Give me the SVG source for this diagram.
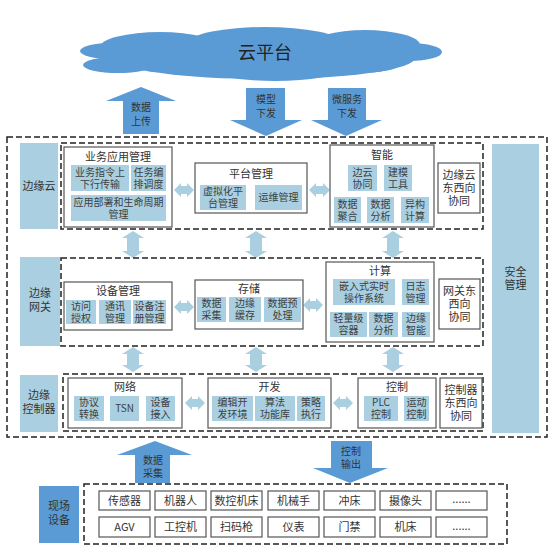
<svg xmlns="http://www.w3.org/2000/svg" width="553" height="558" viewBox="0 0 553 558">
<style>
text{font-family:"Noto Sans CJK SC","Noto Sans",sans-serif;fill:#333;text-anchor:middle}
.s{font-size:10px;fill:#404040}
.m{font-size:11px}
.lb{fill:#a9cfe1}
.wb{fill:#fff;stroke:#555;stroke-width:1.2}
.dash{fill:none;stroke:#222;stroke-width:1.5;stroke-dasharray:6 3}
.blue{fill:#5b9bd5}
.da{fill:#a9cfe1}
.k{fill:#333}
</style>
<rect width="553" height="558" fill="#fff"/>
<g id="cloud" class="blue">
<ellipse cx="265" cy="58" rx="150" ry="21"/>
<ellipse cx="160" cy="47" rx="60" ry="15"/>
<ellipse cx="265" cy="42" rx="75" ry="15"/>
<ellipse cx="365" cy="45" rx="55" ry="15"/>
<ellipse cx="410" cy="52" rx="32" ry="9"/>
<ellipse cx="112" cy="51" rx="32" ry="8"/>
<ellipse cx="118" cy="65" rx="35" ry="8"/>
<ellipse cx="275" cy="69" rx="65" ry="12"/>
<ellipse cx="360" cy="64" rx="40" ry="9"/>
<text x="265" y="59" style="font-size:18px;fill:#222">云平台</text>
</g>
<g id="connectors">
<polygon class="blue" points="141,87 176,101 159,101 159,134 123,134 123,101 106,101"/>
<text class="s k" x="141" y="111"><tspan x="141">数据</tspan><tspan x="141" dy="14">上传</tspan></text>
<polygon class="blue" points="246,88 285,88 285,120 302,120 266,136 230,120 246,120"/>
<text class="s k" x="266" y="103"><tspan x="266">模型</tspan><tspan x="266" dy="14">下发</tspan></text>
<polygon class="blue" points="328,88 366,88 366,120 382,120 346,136 311,120 328,120"/>
<text class="s k" x="347" y="103"><tspan x="347">微服务</tspan><tspan x="347" dy="14">下发</tspan></text>
<polygon class="da" points="174,190 181,183 181,186 187,186 187,183 194,190 187,197 187,194 181,194 181,197"/>
<polygon class="da" points="309,190 316,183 316,186 323,186 323,183 330,190 323,197 323,194 316,194 316,197"/>
<polygon class="da" points="174,307 181,300 181,303 187,303 187,300 194,307 187,314 187,311 181,311 181,314"/>
<polygon class="da" points="303,305 310,298 310,301 316,301 316,298 323,305 316,312 316,309 310,309 310,312"/>
<polygon class="da" points="185,403 192,396 192,399 198,399 198,396 205,403 198,410 198,407 192,407 192,410"/>
<polygon class="da" points="333,403 340,396 340,399 346,399 346,396 353,403 346,410 346,407 340,407 340,410"/>
<polygon class="da" points="133,231 144,238 139,238 139,251 144,251 133,258 122,251 127,251 127,238 122,238"/>
<polygon class="da" points="256,231 267,238 262,238 262,251 267,251 256,258 245,251 250,251 250,238 245,238"/>
<polygon class="da" points="393,231 404,238 399,238 399,251 404,251 393,258 382,251 387,251 387,238 382,238"/>
<polygon class="da" points="133,347 144,354 139,354 139,365 144,365 133,372 122,365 127,365 127,354 122,354"/>
<polygon class="da" points="256,347 267,354 262,354 262,365 267,365 256,372 245,365 250,365 250,354 245,354"/>
<polygon class="da" points="393,347 404,354 399,354 399,365 404,365 393,372 382,365 387,365 387,354 382,354"/>
<polygon class="blue" points="155,441 192,455 170,455 170,483 135,483 135,455 117,455"/>
<text class="s k" x="153" y="464"><tspan x="153">数据</tspan><tspan x="153" dy="13">采集</tspan></text>
<polygon class="blue" points="331,441 372,441 372,468 388,468 350,483 313,468 331,468"/>
<text class="s k" x="351" y="455"><tspan x="351">控制</tspan><tspan x="351" dy="13">输出</tspan></text>
</g>
<rect id="outer" class="dash" x="7" y="137" width="540" height="300"/>
<g id="row-cloud">
<rect class="lb" x="20" y="143" width="38" height="86"/><text class="m" x="39" y="190">边缘云</text>
<rect class="dash" x="61" y="143" width="422" height="86"/>
</g>
<g id="biz">
<rect class="wb" x="64" y="147" width="108" height="80"/><text class="m" x="118" y="161">业务应用管理</text>
<rect class="lb" x="71" y="165" width="58" height="26"/><text class="s" y="175.5"><tspan x="100">业务指令上</tspan><tspan x="100" dy="12">下行传输</tspan></text>
<rect class="lb" x="131" y="165" width="35" height="26"/><text class="s" y="175.5"><tspan x="148.5">任务编</tspan><tspan x="148.5" dy="12">排调度</tspan></text>
<rect class="lb" x="71" y="195" width="95" height="26"/><text class="s" y="205.5"><tspan x="118.5">应用部署和生命周期</tspan><tspan x="118.5" dy="12">管理</tspan></text>
</g>
<g id="platform">
<rect class="wb" x="195" y="163" width="112" height="50"/><text class="m" x="251" y="178">平台管理</text>
<rect class="lb" x="200" y="185" width="46" height="25"/><text class="s" y="195"><tspan x="223">虚拟化平</tspan><tspan x="223" dy="12">台管理</tspan></text>
<rect class="lb" x="255" y="185" width="47" height="25"/><text class="s" x="278.5" y="201">运维管理</text>
</g>
<g id="ai">
<rect class="wb" x="330" y="145" width="104" height="82"/><text class="m" x="382" y="159">智能</text>
<rect class="lb" x="348" y="165" width="29" height="26"/><text class="s" y="175.5"><tspan x="362.5">边云</tspan><tspan x="362.5" dy="12">协同</tspan></text>
<rect class="lb" x="384" y="165" width="28" height="26"/><text class="s" y="175.5"><tspan x="398">建模</tspan><tspan x="398" dy="12">工具</tspan></text>
<rect class="lb" x="334" y="197" width="27" height="26"/><text class="s" y="207.5"><tspan x="347.5">数据</tspan><tspan x="347.5" dy="12">聚合</tspan></text>
<rect class="lb" x="367" y="197" width="27" height="26"/><text class="s" y="207.5"><tspan x="380.5">数据</tspan><tspan x="380.5" dy="12">分析</tspan></text>
<rect class="lb" x="401" y="197" width="28" height="26"/><text class="s" y="207.5"><tspan x="415">异构</tspan><tspan x="415" dy="12">计算</tspan></text>
</g>
<g id="cloud-ew">
<rect class="wb" x="438" y="163" width="42" height="50"/><text class="m" y="178.5"><tspan x="459">边缘云</tspan><tspan x="459" dy="13">东西向</tspan><tspan x="459" dy="13">协同</tspan></text>
</g>
<g id="security">
<rect class="lb" x="492" y="144" width="47" height="289"/><text class="m" y="276"><tspan x="515.5">安全</tspan><tspan x="515.5" dy="13">管理</tspan></text>
</g>
<g id="row-gateway">
<rect class="lb" x="20" y="257" width="40" height="89"/><text class="m" y="297"><tspan x="40">边缘</tspan><tspan x="40" dy="14">网关</tspan></text>
<rect class="dash" x="61" y="258" width="422" height="88"/>
</g>
<g id="devmgmt">
<rect class="wb" x="64" y="282" width="108" height="48"/><text class="m" x="118" y="295">设备管理</text>
<rect class="lb" x="66" y="300" width="30" height="24"/><text class="s" y="309.5"><tspan x="81">访问</tspan><tspan x="81" dy="12">授权</tspan></text>
<rect class="lb" x="99" y="300" width="32" height="24"/><text class="s" y="309.5"><tspan x="115">通讯</tspan><tspan x="115" dy="12">管理</tspan></text>
<rect class="lb" x="133" y="300" width="33" height="24"/><text class="s" y="309.5"><tspan x="149.5">设备注</tspan><tspan x="149.5" dy="12">册管理</tspan></text>
</g>
<g id="storage">
<rect class="wb" x="195" y="280" width="108" height="49"/><text class="m" x="249" y="293">存储</text>
<rect class="lb" x="197" y="297" width="29" height="25"/><text class="s" y="307"><tspan x="211.5">数据</tspan><tspan x="211.5" dy="12">采集</tspan></text>
<rect class="lb" x="229" y="297" width="32" height="25"/><text class="s" y="307"><tspan x="245">边缘</tspan><tspan x="245" dy="12">缓存</tspan></text>
<rect class="lb" x="264" y="297" width="37" height="25"/><text class="s" y="307"><tspan x="282.5">数据预</tspan><tspan x="282.5" dy="12">处理</tspan></text>
</g>
<g id="compute">
<rect class="wb" x="326" y="262" width="108" height="80"/><text class="m" x="380" y="275">计算</text>
<rect class="lb" x="333" y="279" width="62" height="26"/><text class="s" y="289.5"><tspan x="364">嵌入式实时</tspan><tspan x="364" dy="12">操作系统</tspan></text>
<rect class="lb" x="402" y="279" width="27" height="26"/><text class="s" y="289.5"><tspan x="415.5">日志</tspan><tspan x="415.5" dy="12">管理</tspan></text>
<rect class="lb" x="330" y="312" width="37" height="25"/><text class="s" y="322"><tspan x="348.5">轻量级</tspan><tspan x="348.5" dy="12">容器</tspan></text>
<rect class="lb" x="369" y="312" width="29" height="25"/><text class="s" y="322"><tspan x="383.5">数据</tspan><tspan x="383.5" dy="12">分析</tspan></text>
<rect class="lb" x="402" y="312" width="28" height="25"/><text class="s" y="322"><tspan x="416">边缘</tspan><tspan x="416" dy="12">智能</tspan></text>
</g>
<g id="gw-ew">
<rect class="wb" x="439" y="279" width="41" height="50"/><text class="m" y="294.5"><tspan x="459.5">网关东</tspan><tspan x="459.5" dy="13">西向</tspan><tspan x="459.5" dy="13">协同</tspan></text>
</g>
<g id="row-controller">
<rect class="lb" x="20" y="375" width="38" height="57"/><text class="m" y="399"><tspan x="39">边缘</tspan><tspan x="39" dy="14">控制器</tspan></text>
<rect class="dash" x="63" y="374" width="420" height="57"/>
</g>
<g id="network">
<rect class="wb" x="68" y="378" width="114" height="50"/><text class="m" x="125" y="391">网络</text>
<rect class="lb" x="74" y="396" width="30" height="25"/><text class="s" y="406"><tspan x="89">协议</tspan><tspan x="89" dy="12">转换</tspan></text>
<rect class="lb" x="110" y="396" width="29" height="25"/><text class="s" x="124.5" y="412">TSN</text>
<rect class="lb" x="146" y="396" width="29" height="25"/><text class="s" y="406"><tspan x="160.5">设备</tspan><tspan x="160.5" dy="12">接入</tspan></text>
</g>
<g id="dev">
<rect class="wb" x="208" y="378" width="123" height="50"/><text class="m" x="269.5" y="391">开发</text>
<rect class="lb" x="212" y="396" width="41" height="25"/><text class="s" y="406"><tspan x="232.5">编辑开</tspan><tspan x="232.5" dy="12">发环境</tspan></text>
<rect class="lb" x="255" y="396" width="40" height="25"/><text class="s" y="406"><tspan x="275">算法</tspan><tspan x="275" dy="12">功能库</tspan></text>
<rect class="lb" x="297" y="396" width="28" height="25"/><text class="s" y="406"><tspan x="311">策略</tspan><tspan x="311" dy="12">执行</tspan></text>
</g>
<g id="control">
<rect class="wb" x="358" y="378" width="78" height="50"/><text class="m" x="397" y="391">控制</text>
<rect class="lb" x="364" y="396" width="34" height="25"/><text class="s" y="406"><tspan x="381">PLC</tspan><tspan x="381" dy="12">控制</tspan></text>
<rect class="lb" x="404" y="396" width="25" height="25"/><text class="s" y="406"><tspan x="416.5">运动</tspan><tspan x="416.5" dy="12">控制</tspan></text>
</g>
<g id="ctrl-ew">
<rect class="wb" x="440" y="378" width="42" height="50"/><text class="m" y="393.5"><tspan x="461">控制器</tspan><tspan x="461" dy="13">东西向</tspan><tspan x="461" dy="13">协同</tspan></text>
</g>
<g id="field">
<rect class="blue" x="39" y="486" width="40" height="57"/><text class="m" y="510"><tspan x="59">现场</tspan><tspan x="59" dy="14">设备</tspan></text>
<rect class="dash" x="84" y="484" width="423" height="60"/>
</g>
<g id="devices">
<rect class="wb" x="99" y="491" width="51" height="19"/><text class="m" x="124.5" y="504.5">传感器</text>
<rect class="wb" x="155" y="491" width="51" height="19"/><text class="m" x="180.5" y="504.5">机器人</text>
<rect class="wb" x="211" y="491" width="51" height="19"/><text class="m" x="236.5" y="504.5">数控机床</text>
<rect class="wb" x="268" y="491" width="51" height="19"/><text class="m" x="293.5" y="504.5">机械手</text>
<rect class="wb" x="324" y="491" width="51" height="19"/><text class="m" x="349.5" y="504.5">冲床</text>
<rect class="wb" x="380" y="491" width="51" height="19"/><text class="m" x="405.5" y="504.5">摄像头</text>
<rect class="wb" x="436" y="491" width="51" height="19"/><text class="m" x="461.5" y="503">......</text>
<rect class="wb" x="99" y="517" width="51" height="20"/><text class="m" x="124.5" y="531">AGV</text>
<rect class="wb" x="155" y="517" width="51" height="20"/><text class="m" x="180.5" y="531">工控机</text>
<rect class="wb" x="211" y="517" width="51" height="20"/><text class="m" x="236.5" y="531">扫码枪</text>
<rect class="wb" x="268" y="517" width="51" height="20"/><text class="m" x="293.5" y="531">仪表</text>
<rect class="wb" x="324" y="517" width="51" height="20"/><text class="m" x="349.5" y="531">门禁</text>
<rect class="wb" x="380" y="517" width="51" height="20"/><text class="m" x="405.5" y="531">机床</text>
<rect class="wb" x="436" y="517" width="51" height="20"/><text class="m" x="461.5" y="530">......</text>
</g>
</svg>
